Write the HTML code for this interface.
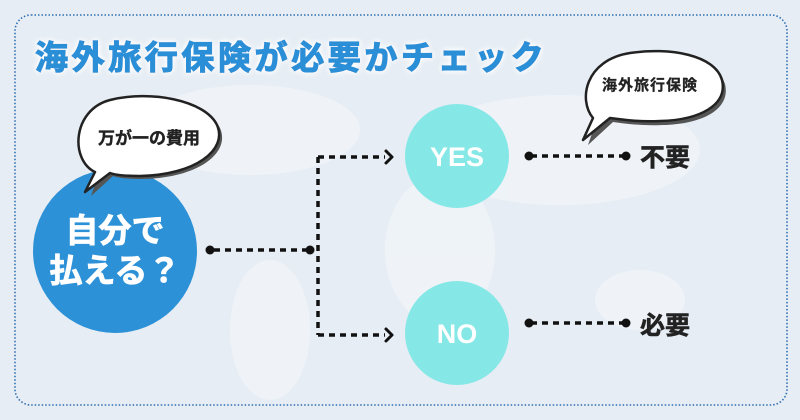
<!DOCTYPE html>
<html><head><meta charset="utf-8"><style>
html,body{margin:0;padding:0;background:#e6edf4;}
svg{display:block;}
text{font-family:"Liberation Sans","Noto Sans CJK JP",sans-serif;font-weight:bold;}
</style></head><body>
<svg width="800" height="420" viewBox="0 0 800 420" xmlns="http://www.w3.org/2000/svg">
<defs>
<filter id="glow" x="-10%" y="-50%" width="120%" height="200%">
<feGaussianBlur in="SourceAlpha" stdDeviation="3" result="b"/>
<feFlood flood-color="#ffffff"/><feComposite in2="b" operator="in" result="w"/>
<feMerge><feMergeNode in="w"/><feMergeNode in="w"/><feMergeNode in="SourceGraphic"/></feMerge>
</filter>
</defs>
<rect width="800" height="420" fill="#e6edf4"/>
<g fill="#ffffff" opacity="0.35">
<ellipse cx="250" cy="130" rx="110" ry="45"/>
<ellipse cx="270" cy="330" rx="40" ry="70"/>
<ellipse cx="440" cy="250" rx="55" ry="75"/>
<ellipse cx="560" cy="150" rx="140" ry="55"/>
<ellipse cx="640" cy="300" rx="45" ry="30"/>
</g>
<rect x="15" y="15" width="772" height="390" rx="16" fill="none" stroke="#2f6fb0" stroke-width="1.6" stroke-dasharray="1.5 2"/>
<text x="35" y="69" font-size="33" letter-spacing="3.6" fill="#2b8fd6" stroke="#2b8fd6" stroke-width="1.2" filter="url(#glow)">海外旅行保険が必要かチェック</text>

<circle cx="115" cy="251" r="82" fill="#2d91d7"/>
<g fill="#fff" stroke="#fff" stroke-width="0.8" text-anchor="middle" font-size="33">
<text x="115" y="242">自分で</text>
<text x="115" y="282">払える？</text>
</g>

<g transform="translate(3,3)" fill="#555"><path d="M95 172 C70 160 72 110 110 100 C150 90 205 100 217 125 C228 150 195 175 140 176 C125 176 115 175 110 173 L88 193 Z"/></g>
<path d="M95 172 C70 160 72 110 110 100 C150 90 205 100 217 125 C228 150 195 175 140 176 C125 176 115 175 110 173 L85 192 Z" fill="#fff" stroke="#222" stroke-width="2.5" stroke-linejoin="round"/>
<text x="149" y="144" font-size="17" fill="#222" stroke="#222" stroke-width="0.4" text-anchor="middle">万が一の費用</text>

<g stroke="#111" stroke-width="3.5" fill="none" stroke-dasharray="6 5">
<line x1="214" y1="250" x2="310" y2="250"/>
<line x1="318" y1="157" x2="318" y2="335"/>
<line x1="318" y1="157" x2="385" y2="157"/>
<line x1="318" y1="335" x2="385" y2="335"/>
<line x1="531" y1="156" x2="625" y2="156"/>
<line x1="531" y1="323" x2="625" y2="323"/>
</g>
<g stroke="#111" stroke-width="3" fill="none" stroke-linecap="round" stroke-linejoin="round">
<polyline points="386,151 392,157 386,163"/>
<polyline points="386,329 392,335 386,341"/>
</g>
<g fill="#111">
<circle cx="210" cy="250" r="4.5"/><circle cx="310" cy="250" r="4.5"/>
<circle cx="529" cy="156" r="4.5"/><circle cx="626" cy="156" r="4.5"/>
<circle cx="529" cy="323" r="4.5"/><circle cx="626" cy="323" r="4.5"/>
</g>

<circle cx="457" cy="156" r="52" fill="#86e8e6"/>
<text x="457" y="166" font-size="27" fill="#fff" text-anchor="middle">YES</text>
<circle cx="457" cy="333" r="52" fill="#86e8e6"/>
<text x="457" y="343" font-size="27" fill="#fff" text-anchor="middle">NO</text>

<text x="640" y="166" font-size="25" fill="#222" stroke="#222" stroke-width="0.6">不要</text>
<text x="640" y="334" font-size="25" fill="#222" stroke="#222" stroke-width="0.6">必要</text>

<g transform="translate(3,4)" fill="#555"><path d="M593 118 C578 100 585 60 630 53 C670 47 715 55 722 80 C728 105 700 120 660 121 C640 122 625 120 610 118 L585 141 Z"/></g>
<path d="M593 118 C578 100 585 60 630 53 C670 47 715 55 722 80 C728 105 700 120 660 121 C640 122 625 120 610 118 L583 140 Z" fill="#fff" stroke="#222" stroke-width="2.5" stroke-linejoin="round"/>
<text x="650" y="90" font-size="15" fill="#222" stroke="#222" stroke-width="0.3" text-anchor="middle" letter-spacing="1">海外旅行保険</text>
</svg>
</body></html>
